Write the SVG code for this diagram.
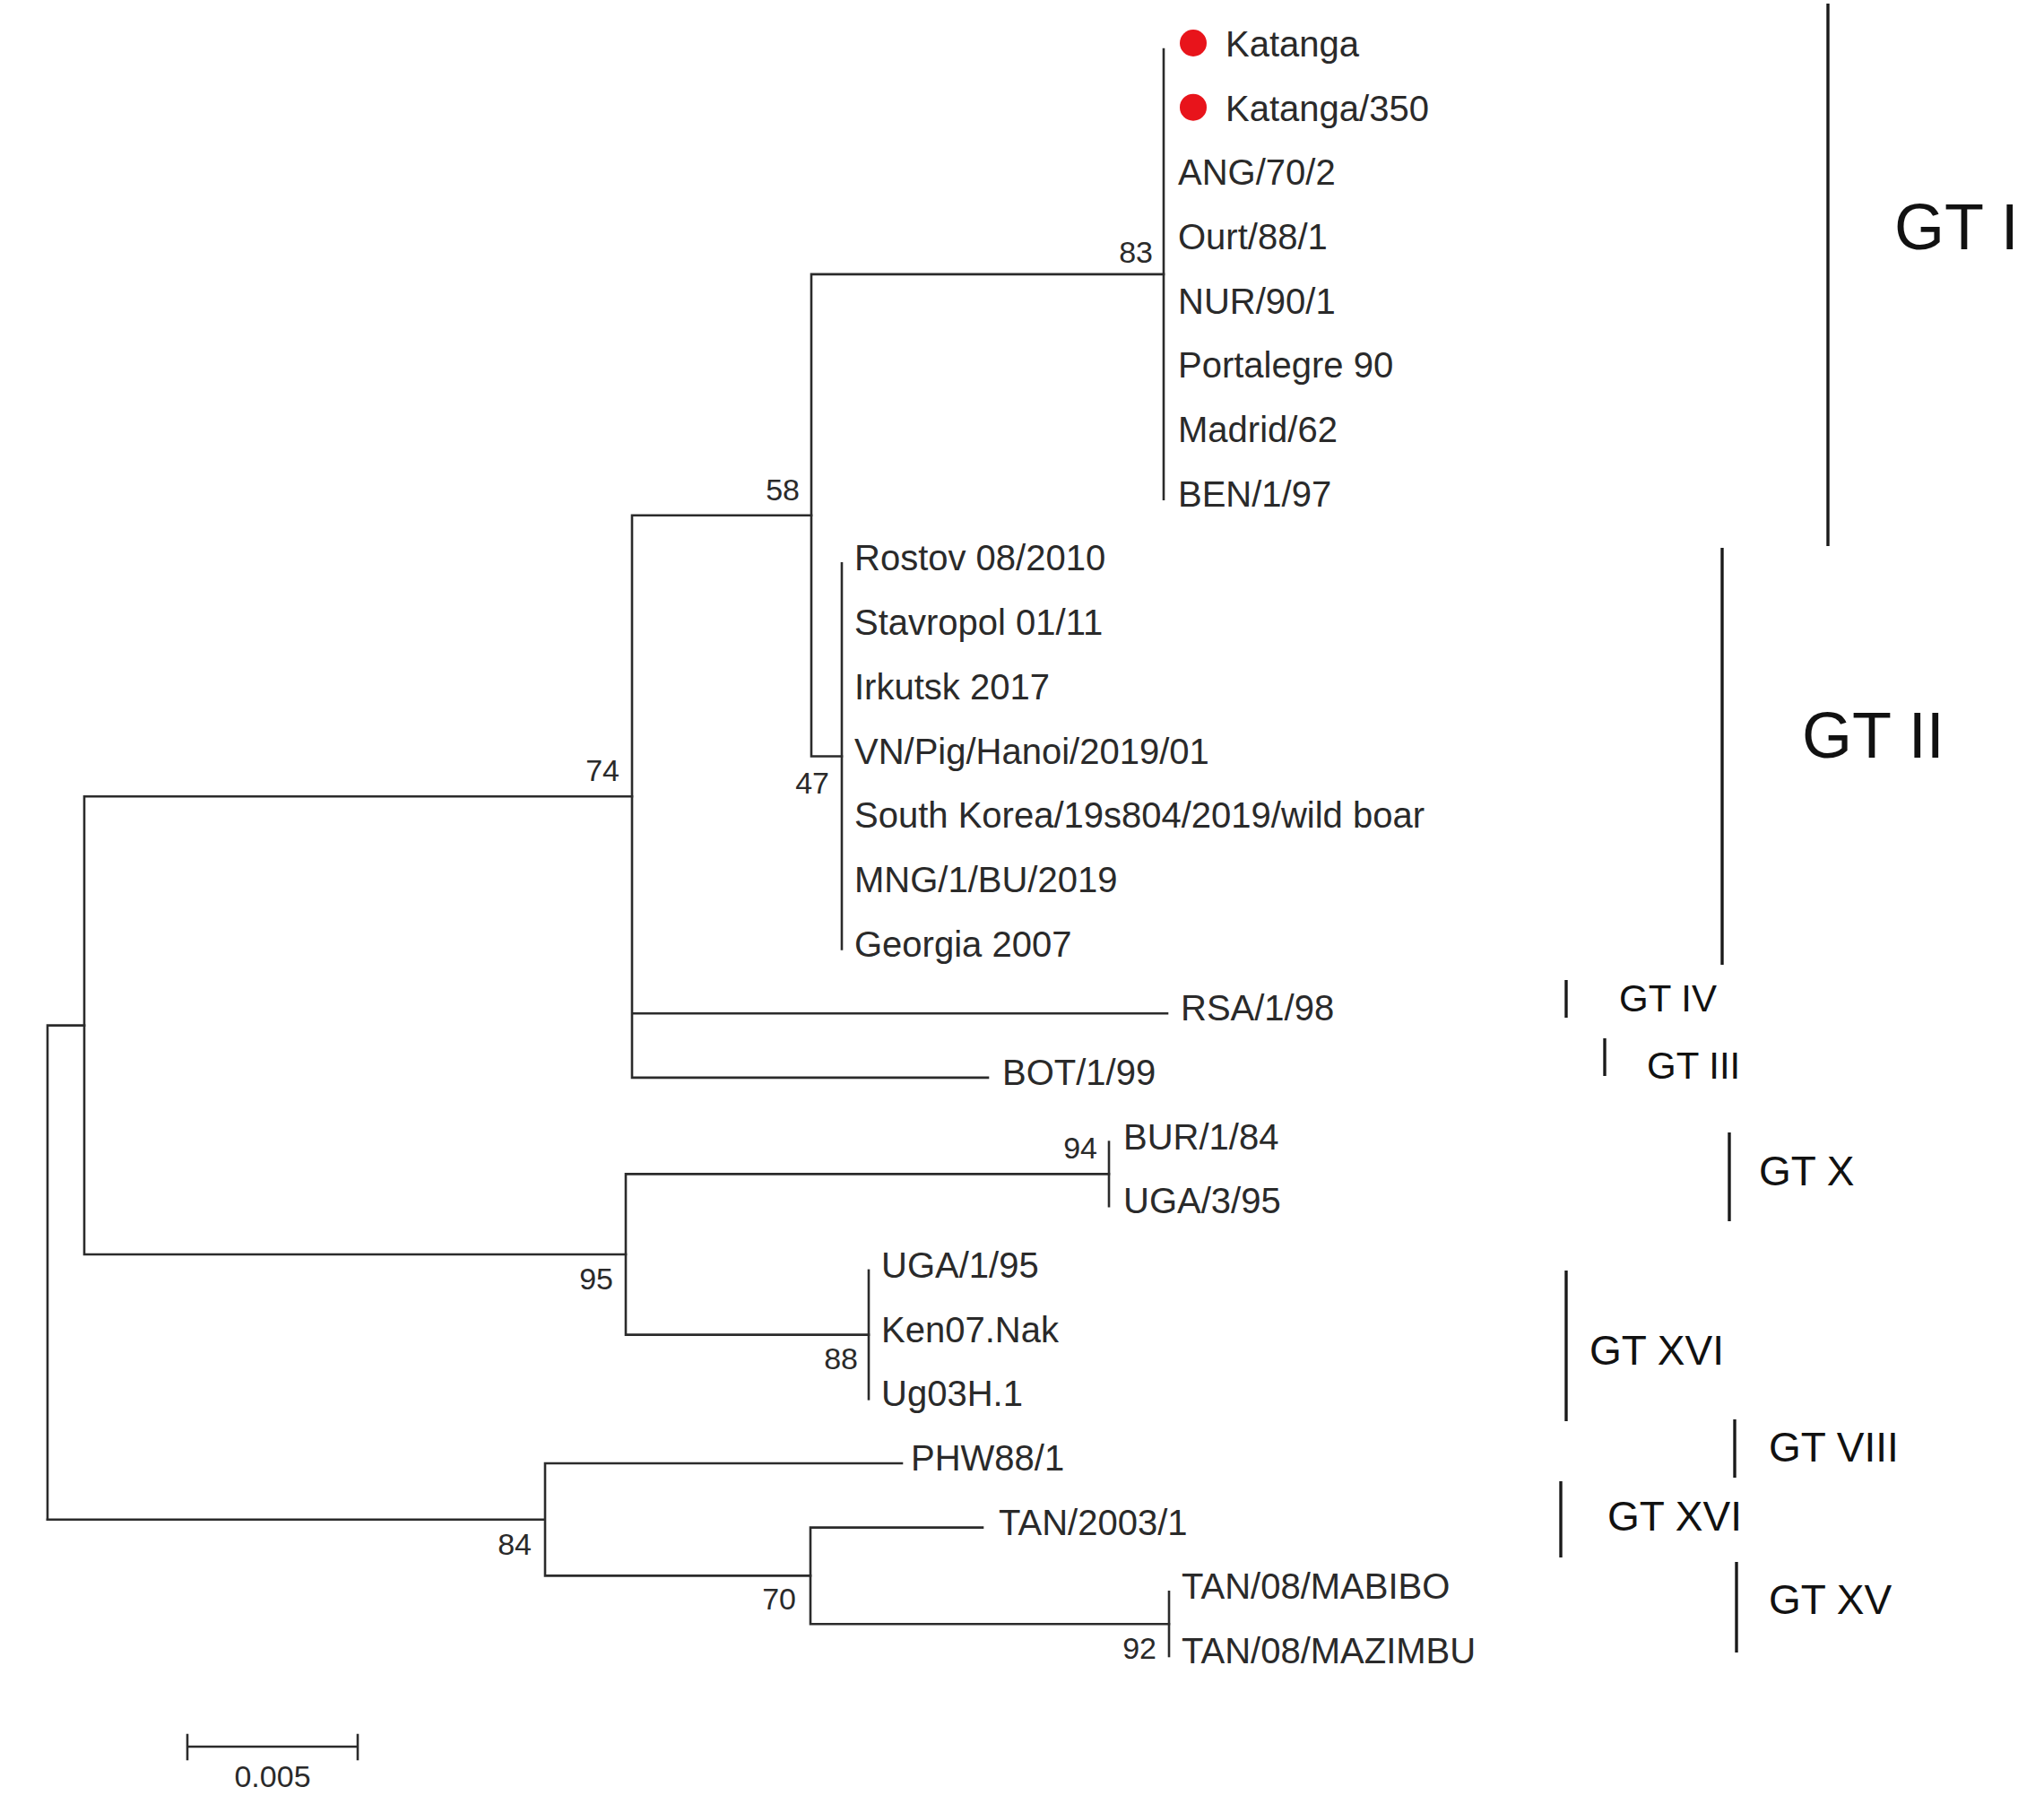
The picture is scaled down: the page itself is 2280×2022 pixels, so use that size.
<svg xmlns="http://www.w3.org/2000/svg" width="2280" height="2022" viewBox="0 0 2280 2022">
<style>
.br{fill:none;stroke:#2b2b2b;stroke-width:2.6;stroke-linecap:square}
.bar{fill:none;stroke:#1a1a1a;stroke-width:3.4}
.leaf{font-family:"Liberation Sans",Arial,sans-serif;font-size:40px;fill:#2a2a2a}
.bs{font-family:"Liberation Sans",Arial,sans-serif;font-size:34px;fill:#2a2a2a;text-anchor:end}
.gt{font-family:"Liberation Sans",Arial,sans-serif;font-size:46px;fill:#111}
.gts{font-family:"Liberation Sans",Arial,sans-serif;font-size:42px;fill:#111}
.gtl{font-family:"Liberation Sans",Arial,sans-serif;font-size:72px;fill:#111}
.dot{fill:#e8141b}
</style>
<rect width="2280" height="2022" fill="#ffffff"/>
<g id="connectors" class="br">
<path d="M53 1143.6V1694.7M53 1143.6H94"/>
<path d="M94 888.3V1399M94 888.3H705M94 1399H698"/>
<path d="M705 574.7V1201.9M705 574.7H905M705 1130.2H1302M705 1201.9H1102"/>
<path d="M905 305.9V843.5M905 305.9H1298M905 843.5H939"/>
<path d="M1298 55V556.8"/>
<path d="M939 628.4V1058.5"/>
<path d="M698 1309.4V1488.6M698 1309.4H1237M698 1488.6H969"/>
<path d="M1237 1273.6V1345.2"/>
<path d="M969 1416.9V1560.3"/>
<path d="M53 1694.7H608M608 1632V1757.4M608 1632H1006M608 1757.4H904"/>
<path d="M904 1703.6V1811.2M904 1703.6H1096M904 1811.2H1304"/>
<path d="M1304 1775.3V1847"/>
</g>
<g id="bootstrap">
<text class="bs" x="1286" y="293">83</text>
<text class="bs" x="892" y="558">58</text>
<text class="bs" x="691" y="871">74</text>
<text class="bs" x="925" y="885">47</text>
<text class="bs" x="684" y="1438">95</text>
<text class="bs" x="1224" y="1292">94</text>
<text class="bs" x="957" y="1527">88</text>
<text class="bs" x="593" y="1734">84</text>
<text class="bs" x="888" y="1795">70</text>
<text class="bs" x="1290" y="1850">92</text>
</g>
<g id="leaf-katanga"><circle class="dot" cx="1331" cy="48" r="15"/><text class="leaf" x="1367" y="63">Katanga</text></g>
<g id="leaf-katanga350"><circle class="dot" cx="1331" cy="119.7" r="15"/><text class="leaf" x="1367" y="134.7">Katanga/350</text></g>
<g id="leaf-ang"><text class="leaf" x="1314" y="206.4">ANG/70/2</text></g>
<g id="leaf-ourt"><text class="leaf" x="1314" y="278">Ourt/88/1</text></g>
<g id="leaf-nur"><text class="leaf" x="1314" y="349.7">NUR/90/1</text></g>
<g id="leaf-portalegre"><text class="leaf" x="1314" y="421.4">Portalegre 90</text></g>
<g id="leaf-madrid"><text class="leaf" x="1314" y="493.1">Madrid/62</text></g>
<g id="leaf-ben"><text class="leaf" x="1314" y="564.8">BEN/1/97</text></g>
<g id="leaf-rostov"><text class="leaf" x="953" y="636.4">Rostov 08/2010</text></g>
<g id="leaf-stavropol"><text class="leaf" x="953" y="708.1">Stavropol 01/11</text></g>
<g id="leaf-irkutsk"><text class="leaf" x="953" y="779.8">Irkutsk 2017</text></g>
<g id="leaf-vn"><text class="leaf" x="953" y="851.5">VN/Pig/Hanoi/2019/01</text></g>
<g id="leaf-southkorea"><text class="leaf" x="953" y="923.2">South Korea/19s804/2019/wild boar</text></g>
<g id="leaf-mng"><text class="leaf" x="953" y="994.8">MNG/1/BU/2019</text></g>
<g id="leaf-georgia"><text class="leaf" x="953" y="1066.5">Georgia 2007</text></g>
<g id="leaf-rsa"><text class="leaf" x="1317" y="1138.2">RSA/1/98</text></g>
<g id="leaf-bot"><text class="leaf" x="1118" y="1209.9">BOT/1/99</text></g>
<g id="leaf-bur"><text class="leaf" x="1253" y="1281.6">BUR/1/84</text></g>
<g id="leaf-uga395"><text class="leaf" x="1253" y="1353.2">UGA/3/95</text></g>
<g id="leaf-uga195"><text class="leaf" x="983" y="1424.9">UGA/1/95</text></g>
<g id="leaf-ken07"><text class="leaf" x="983" y="1496.6">Ken07.Nak</text></g>
<g id="leaf-ug03h"><text class="leaf" x="983" y="1568.3">Ug03H.1</text></g>
<g id="leaf-phw"><text class="leaf" x="1016" y="1640">PHW88/1</text></g>
<g id="leaf-tan2003"><text class="leaf" x="1114" y="1711.6">TAN/2003/1</text></g>
<g id="leaf-mabibo"><text class="leaf" x="1318" y="1783.3">TAN/08/MABIBO</text></g>
<g id="leaf-mazimbu"><text class="leaf" x="1318" y="1855">TAN/08/MAZIMBU</text></g>
<g id="group-gt1"><line class="bar" x1="2039" y1="4" x2="2039" y2="609"/><text class="gtl" x="2113" y="278">GT I</text></g>
<g id="group-gt2"><line class="bar" x1="1921" y1="611" x2="1921" y2="1076"/><text class="gtl" x="2010" y="845">GT II</text></g>
<g id="group-gt4"><line class="bar" x1="1747" y1="1093" x2="1747" y2="1135"/><text class="gts" x="1806" y="1128">GT IV</text></g>
<g id="group-gt3"><line class="bar" x1="1790" y1="1158" x2="1790" y2="1200"/><text class="gts" x="1837" y="1203">GT III</text></g>
<g id="group-gt10"><line class="bar" x1="1929" y1="1263" x2="1929" y2="1362"/><text class="gt" x="1962" y="1322">GT X</text></g>
<g id="group-gt16a"><line class="bar" x1="1747" y1="1417" x2="1747" y2="1585"/><text class="gt" x="1773" y="1522">GT XVI</text></g>
<g id="group-gt8"><line class="bar" x1="1935" y1="1583" x2="1935" y2="1648"/><text class="gt" x="1973" y="1630">GT VIII</text></g>
<g id="group-gt16b"><line class="bar" x1="1741" y1="1652" x2="1741" y2="1737"/><text class="gt" x="1793" y="1707">GT XVI</text></g>
<g id="group-gt15"><line class="bar" x1="1937" y1="1742" x2="1937" y2="1843"/><text class="gt" x="1973" y="1800">GT XV</text></g>
<g id="scale">
<path class="br" d="M209 1948H399M209 1935V1962M399 1935V1962"/>
<text class="bs" x="304" y="1993" style="text-anchor:middle">0.005</text>
</g>
</svg>
